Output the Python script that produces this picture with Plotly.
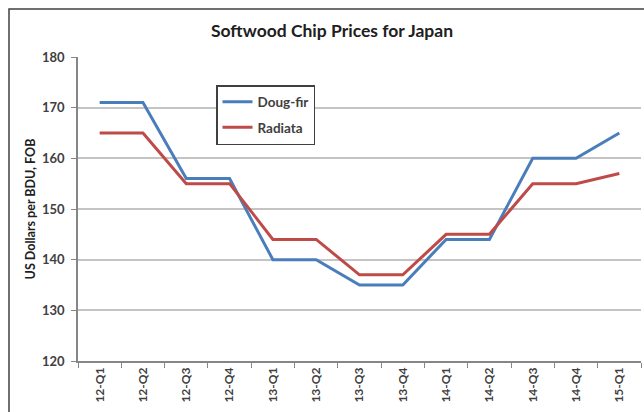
import plotly.graph_objects as go

quarters = ["12-Q1", "12-Q2", "12-Q3", "12-Q4", "13-Q1", "13-Q2", "13-Q3",
            "13-Q4", "14-Q1", "14-Q2", "14-Q3", "14-Q4", "15-Q1"]
doug_fir = [171, 171, 156, 156, 140, 140, 135, 135, 144, 144, 160, 160, 165]
radiata = [165, 165, 155, 155, 144, 144, 137, 137, 145, 145, 155, 155, 157]

FONT = "Lato"
TXT = "#404040"

fig = go.Figure()
fig.add_trace(go.Scatter(x=quarters, y=doug_fir, mode="lines", name="Doug-fir",
                         line=dict(color="#4A7EBB", width=3), legendgroup="a"))
fig.add_trace(go.Scatter(x=quarters, y=radiata, mode="lines", name="Radiata",
                         line=dict(color="#BE4B48", width=3), legendgroup="b"))

L, R, T, B = 78, 3, 57, 51
W, H = 644, 412
pw, ph = W - L - R, H - T - B

fig.update_layout(
    width=W, height=H,
    margin=dict(l=L, r=R, t=T, b=B),
    paper_bgcolor="white", plot_bgcolor="white",
    font=dict(family=FONT, color=TXT),
    title=dict(text="<b>Softwood Chip Prices for Japan</b>", x=332 / W, xanchor="center",
               y=1 - 31 / H, yanchor="middle", font=dict(size=17.5, color="#202020", family=FONT)),
    showlegend=True,
    legend=dict(x=(216 - L) / pw, y=1 - (85 - T) / ph, xanchor="left", yanchor="top",
                bordercolor="#404040", borderwidth=1.5, bgcolor="white",
                font=dict(size=13.5, color=TXT, family=FONT, weight="bold"), tracegroupgap=5,
                itemwidth=30),
    xaxis=dict(type="category", tickson="boundaries", ticks="outside", ticklen=5,
               tickcolor="#868686", showline=True, linecolor="#868686", linewidth=1.5,
               showgrid=False, tickangle=-90,
               tickfont=dict(size=12, family=FONT, color=TXT, weight="bold"),
               range=[-0.5, 12.5]),
    yaxis=dict(range=[120, 180], dtick=10, ticks="outside", ticklen=5, tickcolor="#868686",
               showline=True, linecolor="#868686", linewidth=1.5, showgrid=True,
               gridcolor="#C4C4C4", gridwidth=1.5, zeroline=False,
               ticklabelstandoff=4,
               tickfont=dict(size=13, family=FONT, color=TXT, weight="bold"),
               title=dict(text="<b>US Dollars per BDU, FOB</b>", standoff=4,
                          font=dict(size=12.5, family=FONT, color="#202020"))),
)

fig.add_shape(type="rect", xref="paper", yref="paper",
              x0=(9 - L) / pw, x1=1.2, y0=-0.5, y1=1 + (T - 9) / ph,
              line=dict(color="#404040", width=1.5), fillcolor="rgba(0,0,0,0)", layer="below")

fig.write_html("out.html")
